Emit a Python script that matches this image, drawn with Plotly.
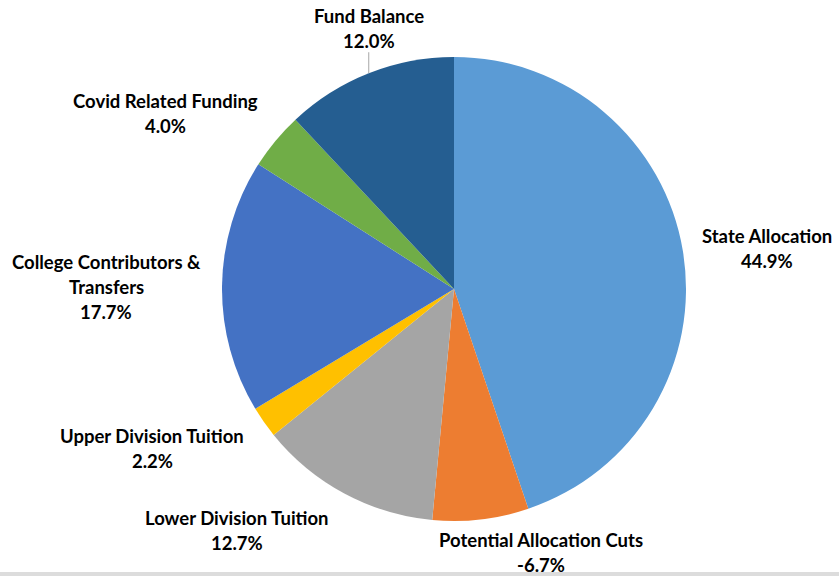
import math
import plotly.graph_objects as go

# Budget sources (share of total, %). The allocation cut is a reduction,
# so its slice is drawn from its magnitude while the label keeps the sign.
labels = [
    "State Allocation",
    "Potential Allocation Cuts",
    "Lower Division Tuition",
    "Upper Division Tuition",
    "College Contributors & Transfers",
    "Covid Related Funding",
    "Fund Balance",
]
values = [44.9, -6.7, 12.7, 2.2, 17.7, 4.0, 12.0]
label_lines = [
    ["State Allocation"],
    ["Potential Allocation Cuts"],
    ["Lower Division Tuition"],
    ["Upper Division Tuition"],
    ["College Contributors &", "Transfers"],
    ["Covid Related Funding"],
    ["Fund Balance"],
]
colors = ["#5B9BD5", "#ED7D31", "#A5A5A5", "#FFC000", "#4472C4", "#70AD47", "#255E91"]

W, H = 839, 576
CX, CY, R = 454, 289, 232  # pie centre and radius in pixels

# label block offsets from the slice's rim point (pixels, +x right, +y down)
label_offsets = [(84, -3), (60, 33), (-107, 37), (-112, 26), (-116, 1), (-110, -27), (0, -45)]
LINE_STEP = 25
FONT = dict(family="Lato, Carlito, Calibri, sans-serif", size=18.5, color="#000000")

sizes = [abs(v) for v in values]
total = sum(sizes)

fig = go.Figure(
    go.Pie(
        labels=labels,
        values=sizes,
        sort=False,
        direction="clockwise",
        rotation=0,
        marker=dict(colors=colors, line=dict(width=0)),
        textinfo="none",
        hoverinfo="label+percent",
        showlegend=False,
        domain=dict(
            x=[(CX - R) / W, (CX + R) / W],
            y=[1 - (CY + R) / H, 1 - (CY - R) / H],
        ),
    )
)


def px_to_paper(x, y):
    return x / W, 1 - y / H


annotations = []
shapes = []
cum = 0.0
for name, val, size, lines, (dx, dy) in zip(labels, values, sizes, label_lines, label_offsets):
    mid = (cum + size / 2) / total * 2 * math.pi
    cum += size
    rim_x = CX + R * math.sin(mid)
    rim_y = CY - R * math.cos(mid)
    block = lines + [f"{val:.1f}%"]
    bx, by = rim_x + dx, rim_y + dy
    n = len(block)
    for i, line in enumerate(block):
        ly = by + (i - (n - 1) / 2) * LINE_STEP
        px, py = px_to_paper(bx, ly)
        annotations.append(
            dict(
                x=px, y=py, xref="paper", yref="paper",
                text=f"<b>{line}</b>", showarrow=False,
                xanchor="center", yanchor="middle", font=FONT,
            )
        )
    if name == "Fund Balance":
        x0, y0 = px_to_paper(rim_x, rim_y)
        x1, y1 = px_to_paper(rim_x, rim_y - 21)
        shapes.append(
            dict(type="line", xref="paper", yref="paper", x0=x0, y0=y0, x1=x1, y1=y1,
                 line=dict(color="#A6A6A6", width=1))
        )

# light strip along the bottom edge
shapes.append(
    dict(type="rect", xref="paper", yref="paper", x0=0, x1=1, y0=0, y1=4 / H,
         fillcolor="#DCDCDC", line=dict(width=0), layer="below")
)

fig.update_layout(
    width=W, height=H,
    margin=dict(l=0, r=0, t=0, b=0),
    paper_bgcolor="white", plot_bgcolor="white",
    annotations=annotations, shapes=shapes,
)

fig.write_html("out.html")
